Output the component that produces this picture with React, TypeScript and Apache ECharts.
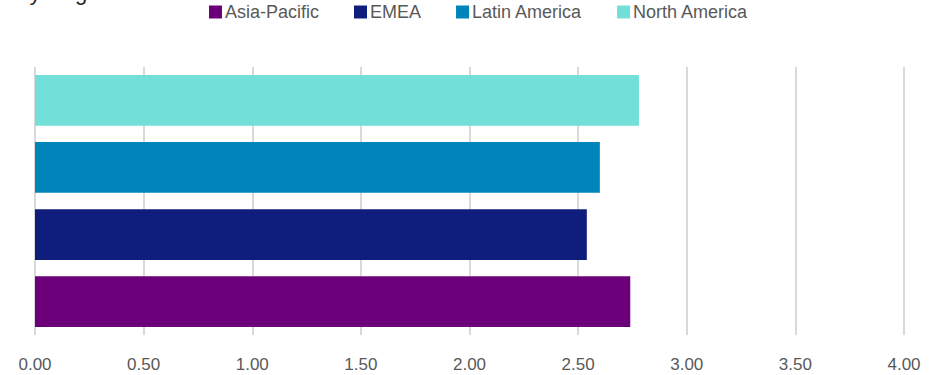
import React, { useEffect, useRef } from "react";
import * as echarts from "echarts";

// Average score per region
const regions = ["Asia-Pacific", "EMEA", "Latin America", "North America"];
const scores = [2.74, 2.54, 2.6, 2.78];
const regionColors = ["#6c007a", "#0f1e7c", "#0085bb", "#72e0d8"];
const tickValues = [0, 0.5, 1, 1.5, 2, 2.5, 3, 3.5, 4];

export default function App() {
  const ref = useRef<HTMLDivElement>(null);

  useEffect(() => {
    if (!ref.current) return;
    const chart = echarts.init(ref.current, null, { renderer: "svg" });
    const font = "'Liberation Sans', Arial, sans-serif";

    // Bars within the single band are laid out top-down, so the first
    // region goes last to end up at the bottom.
    const order = regions.map((_, i) => i).reverse();

    chart.setOption({
      animation: false,
      backgroundColor: "#ffffff",
      graphic: [
        {
          type: "text",
          left: 15,
          top: -19,
          style: {
            text: "By Region",
            fontSize: 22,
            fontFamily: font,
            fill: "#222222",
          },
        },
      ],
      legend: {
        top: -2,
        left: 204,
        itemWidth: 13,
        itemHeight: 13,
        itemGap: 35,
        icon: "rect",
        textStyle: {
          color: "#595959",
          fontSize: 18,
          fontFamily: font,
          padding: [0, 0, 0, -2],
        },
        data: regions,
      },
      grid: {
        left: 35,
        right: 32,
        top: 67,
        bottom: 40,
        containLabel: false,
      },
      xAxis: {
        type: "value",
        min: tickValues[0],
        max: tickValues[tickValues.length - 1],
        interval: tickValues[1] - tickValues[0],
        axisLine: { show: false },
        axisTick: { show: false },
        axisLabel: {
          color: "#595959",
          fontSize: 17,
          fontFamily: font,
          margin: 21,
          formatter: (v: number) => v.toFixed(2),
        },
        splitLine: {
          show: true,
          lineStyle: { color: "#d9d9d9", width: 2 },
        },
      },
      yAxis: {
        type: "category",
        data: [""],
        axisLine: { show: false },
        axisTick: { show: false },
        axisLabel: { show: false },
      },
      series: order.map((i) => ({
        name: regions[i],
        type: "bar",
        data: [scores[i]],
        itemStyle: { color: regionColors[i] },
        barGap: "32%",
        barCategoryGap: "6%",
      })),
    });

    return () => chart.dispose();
  }, []);

  return (
    <div
      ref={ref}
      style={{ position: "fixed", left: 0, top: 0, width: 936, height: 375 }}
    />
  );
}
